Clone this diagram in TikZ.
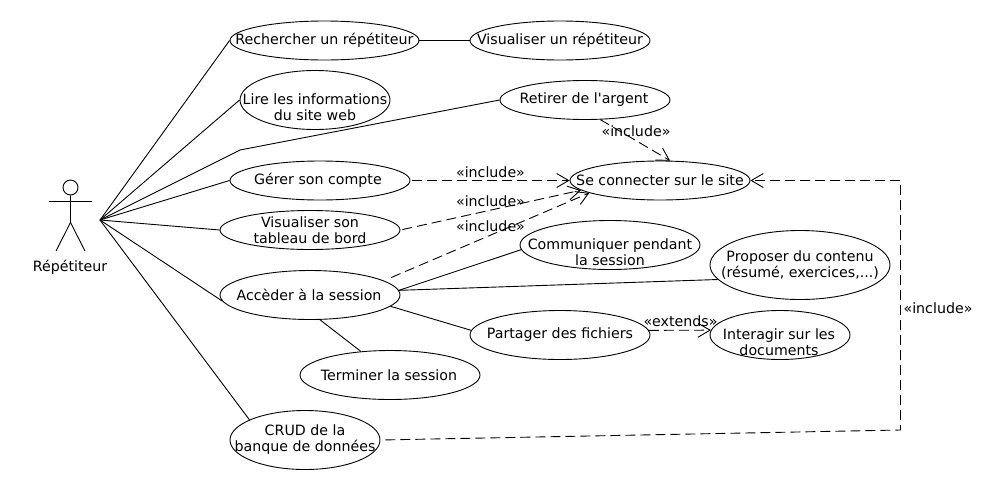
\documentclass[tikz,border=0pt]{standalone}
\usepackage{fontspec}
\setmainfont{DejaVu Sans}
\usetikzlibrary{shapes.geometric, arrows.meta}
\tikzset{
	usecase/.style={draw=black, ellipse, inner sep=0pt, line width=0.9pt},
	casetext/.style={align=center, font=\fontsize{14.2}{16}\selectfont, inner sep=0pt},
	assoc/.style={draw=black, line width=0.9pt},
	dep/.style={assoc, dash pattern=on 10pt off 5pt, -{Straight Barb[length=12pt, width=14pt, line width=0.9pt]}},
}

\begin{document}
\begin{tikzpicture}[x=1pt, y=-1pt]
	\useasboundingbox (0,0) rectangle (1000,490);

	% acteur
	\node[circle, draw=black, line width=0.9pt, minimum size=15pt, inner sep=0pt] (tete) at (70.5,187.5) {};
	\coordinate (bassin) at (70.5,222.5);
	\coordinate (brasg) at (49,201.5);
	\coordinate (brasd) at (92,201.5);
	\coordinate (piedg) at (56,251);
	\coordinate (piedd) at (85,251);
	\coordinate (main) at (100,220);
	\coordinate (coude) at (240,150);
	\coordinate (angleh) at (900.5,180.5);
	\coordinate (anglev) at (900.5,430);
	\draw[assoc] (tete) -- (bassin) -- (piedg);
	\draw[assoc] (bassin) -- (piedd);
	\draw[assoc] (brasg) -- (brasd);
	\node[casetext] (repetiteur) at (70,267) {Répétiteur};

	% cas d'utilisation
	\node[usecase, minimum width=189pt, minimum height=39pt] (rechercher) at (324.5,40.5) {};
	\node[usecase, minimum width=180pt, minimum height=39pt] (visualiser) at (560,40.5) {};
	\node[usecase, minimum width=150pt, minimum height=59pt] (lire) at (315,100) {};
	\node[usecase, minimum width=170pt, minimum height=39pt] (retirer) at (585,100) {};
	\node[usecase, minimum width=180pt, minimum height=39pt] (gerer) at (320,180.5) {};
	\node[usecase, minimum width=180pt, minimum height=39pt] (connecter) at (660,180.5) {};
	\node[usecase, minimum width=180pt, minimum height=39pt] (tableau) at (310,230) {};
	\node[usecase, minimum width=180pt, minimum height=49pt] (communiquer) at (610,245) {};
	\node[usecase, minimum width=180pt, minimum height=69pt] (proposer) at (800,265) {};
	\node[usecase, minimum width=180pt, minimum height=49pt] (acceder) at (310,295) {};
	\node[usecase, minimum width=180pt, minimum height=49pt] (partager) at (560,335) {};
	\node[usecase, minimum width=140pt, minimum height=49pt] (interagir) at (780,335) {};
	\node[usecase, minimum width=180pt, minimum height=49pt] (terminer) at (390,375) {};
	\node[usecase, minimum width=150pt, minimum height=59pt] (crud) at (305,440) {};

	\node[casetext] (rechercher text) at (324.5,40) {Rechercher un répétiteur};
	\node[casetext] (visualiser text) at (560,40) {Visualiser un répétiteur};
	\node[casetext] (lire text) at (315,107) {Lire les informations\\du site web};
	\node[casetext] (retirer text) at (584,100) {Retirer de l\textquotesingle argent};
	\node[casetext] (gerer text) at (318,180) {Gérer son compte};
	\node[casetext] (connecter text) at (660,180) {Se connecter sur le site};
	\node[casetext] (tableau text) at (310,230) {Visualiser son\\tableau de bord};
	\node[casetext] (communiquer text) at (610,252) {Communiquer pendant\\la session};
	\node[casetext] (proposer text) at (800,265) {Proposer du contenu\\(résumé, exercices,...)};
	\node[casetext] (acceder text) at (309,295) {Accèder à la session};
	\node[casetext] (partager text) at (560,335) {Partager des fichiers};
	\node[casetext] (interagir text) at (779,342) {Interagir sur les\\documents};
	\node[casetext] (terminer text) at (389,375) {Terminer la session};
	\node[casetext] (crud text) at (305,440) {CRUD de la\\banque de données};

	% associations
	\draw[assoc] (main) -- (rechercher.west);
	\draw[assoc] (main) -- (lire.west);
	\draw[assoc] (main) -- (coude) -- (retirer.west);
	\draw[assoc] (main) -- (gerer.west);
	\draw[assoc] (main) -- (tableau.west);
	\draw[assoc] (main) -- (acceder.184);
	\draw[assoc] (main) -- (crud.160);
	\draw[assoc] (rechercher.east) -- (visualiser.west);
	\draw[assoc] (acceder.3) -- (communiquer.183);
	\draw[assoc] (acceder.3) -- (proposer.190.6);
	\draw[assoc] (acceder.-8.5) -- (partager.177);
	\draw[assoc] (acceder.-68) -- (terminer.141);

	% dependances
	\draw[dep, shorten <=2pt] (gerer.east) -- (connecter.west);
	\draw[dep, shorten <=2pt] (tableau.east) -- (connecter.187.3);
	\draw[dep, shorten <=8pt] (acceder.11) -- (connecter.190);
	\draw[dep] (retirer.-52.7) -- (connecter.63.4);
	\draw[dep] (partager.3.2) -- (interagir.176);
	\draw[dep, shorten <=5pt] (crud.east) -- (anglev) -- (angleh) -- (connecter.east);

	\node[casetext] (inclusion gerer) at (490.5,172) {«include»};
	\node[casetext] (inclusion tableau) at (490.5,201) {«include»};
	\node[casetext] (inclusion acceder) at (490.5,226.5) {«include»};
	\node[casetext] (inclusion retirer) at (636,131) {«include»};
	\node[casetext] (inclusion crud) at (938,308) {«include»};
	\node[casetext] (extension) at (680.5,321) {«extends»};
\end{tikzpicture}
\end{document}
